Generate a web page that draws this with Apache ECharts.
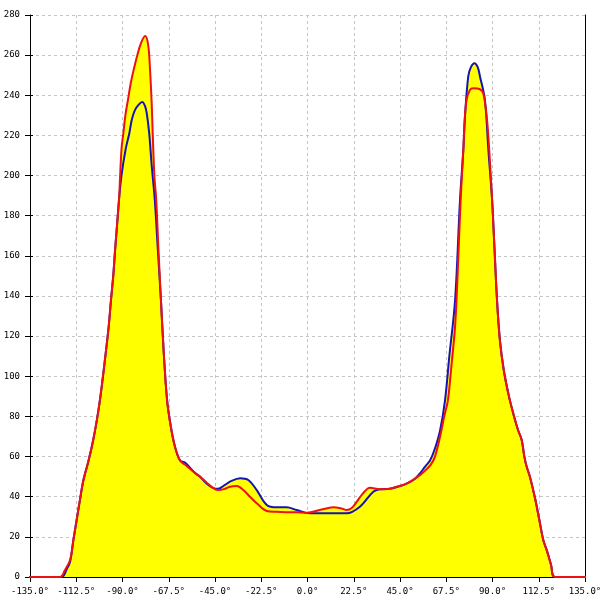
<!DOCTYPE html>
<html><head><meta charset="utf-8">
<script src="https://cdn.jsdelivr.net/npm/echarts@6/dist/echarts.min.js"></script>
<style>html,body{margin:0;padding:0;background:#fff}#c{width:600px;height:600px}</style>
</head><body><div id="c"></div>
<script>
// Tick settings
const xMin = -135, xMax = 135, xStep = 22.5;
const yMin = 0, yMax = 280, yStep = 20;

// Red series (angle, value)
const redAngles = [-150,-120.4,-118,-115.5,-113.9,-112.3,-110.7,-109,-106.5,-104.3,-102.5,-101,-99.5,-98,-96.7,-95.6,-94.5,-93.6,-92.6,-91.7,-90.5,-89.6,-88.6,-87.3,-86,-84.5,-82.8,-81,-79,-77.5,-76.6,-75.8,-75.3,-74.5,-73.6,-72.5,-71.3,-70,-68.3,-66.5,-64.5,-62,-59.6,-54.7,-52.3,-49,-45.8,-43.4,-40,-37.7,-34.4,-31.2,-28,-24.7,-19.8,-15,-10,-5,-0.4,3,6,12.6,17,19,21.5,24,26.4,30.4,35.3,40,43.4,47,50,52.3,55,57.2,60,62,64.5,66.5,68.3,70,71.8,73,74.5,75.8,76.5,77.4,79,80.7,83.9,85.5,87.2,88.4,89.8,91,92.2,93.6,95.5,98,100.5,102.5,104.2,105.5,106.6,108.2,110.7,112.8,114.7,116.5,118.5,120.4,150];
const redValues = [0,0,3.5,8.5,18.4,28.4,38.4,48.3,58,68,78,88,100,113,125,138,150,163,176,188,213,221,230,238,246,253,260,266,269.5,265,252.6,236,221,200,188,163,138,113,88,75,65,58,56,51.8,50,47,44.3,43.3,44,45,45.3,43.3,40,36.7,32.9,32.5,32.3,32.2,32,32.6,33.4,34.7,34,33.4,34.4,37.5,40.9,44.5,43.7,44,45,46,47.5,49,51,53,56,60,70,80,88,105,125,150,188,212.7,228,237.7,242.6,243.5,243,241,229.3,212.7,188,163,138,118,103,90,80,73,68.3,60,55,50,39.2,28.4,18.4,13,6,0,0];

// Blue series (angle, value)
const blueAngles = [-150,-119.6,-117.1,-115.5,-113.9,-112.3,-110.7,-109,-106.5,-104.3,-102.5,-101,-99.5,-98,-96.7,-95.6,-94.5,-93.6,-92.6,-91.7,-90.5,-88.5,-86.7,-85.5,-83.9,-82,-80.4,-79,-78.2,-77,-75.8,-74.3,-72.8,-71.3,-70,-68.3,-66.5,-64.5,-62,-59.6,-54.7,-52.3,-49,-45.8,-43.4,-40,-37.7,-32.8,-28.8,-24.7,-19.8,-15,-10.1,-5.3,1.2,10,19,25.5,32,35.3,40,43.4,47,50,52.3,55,57.2,59.6,62,64.5,66.9,69,71.8,74.2,75.8,76.6,78.2,79.5,81.2,82.8,83.9,86.3,88,89.8,91,92.2,93.6,95.5,98,100.5,102.5,104.2,105.5,106.6,108.2,110.7,112.8,114.7,116.5,118.5,120.4,150];
const blueValues = [0,0,4,7.6,18.4,28.4,38.4,48.3,58,68,78,88,100,113,125,138,150,163,176,188,200,213,221,227.7,232.7,235.5,236.6,234.5,231,221,205,188,163,138,113,88,75,65,58,57,51.8,50,46.5,44.3,44,46,47.5,49.2,48.3,43.3,35.9,34.7,34.7,33.4,31.7,31.7,31.7,35,42.5,43.7,44,44.8,46,47.5,49,52,55,58,64,73,88,110,138,188,212.7,229.3,249.4,254,256,254,249.4,237.7,212.7,188,163,138,118,103,90,80,73,68.3,60,55,50,39.2,28.4,18.4,13,6,0,0];

const zip = (a, b) => a.map((x, i) => [x, b[i]]);
const redData = zip(redAngles, redValues);
const blueData = zip(blueAngles, blueValues);

const font = { fontFamily: 'DejaVu Sans Mono', fontSize: 9, color: '#000' };
const chart = echarts.init(document.getElementById('c'), null, { renderer: 'canvas' });
const base = { type: 'line', symbol: 'none', smooth: 0.35, clip: false, animation: false };
chart.setOption({
  animation: false,
  backgroundColor: '#fff',
  grid: { left: 30, right: 15, top: 15, bottom: 23, containLabel: false, outerBoundsMode: 'none' },
  xAxis: [{
    type: 'value', min: xMin, max: xMax, interval: xStep,
    axisLine: { show: true, onZero: false, lineStyle: { color: '#000', width: 1 } },
    axisTick: { show: true, length: 5, lineStyle: { color: '#000' } },
    axisLabel: Object.assign({ margin: 10, formatter: v => v.toFixed(1) + '°' }, font),
    splitLine: { show: true, lineStyle: { color: '#c4c4c4', type: [3, 3] } }
  }, {
    type: 'value', min: xMin, max: xMax, interval: xStep, position: 'bottom',
    axisLine: { show: false, onZero: false }, axisLabel: { show: false }, splitLine: { show: false },
    axisTick: { show: true, inside: true, length: 4, lineStyle: { color: '#000' } }
  }],
  yAxis: [{
    type: 'value', min: yMin, max: yMax, interval: yStep, position: 'left',
    axisLine: { show: true, onZero: false, lineStyle: { color: '#000', width: 1 } },
    axisTick: { show: true, length: 5, lineStyle: { color: '#000' } },
    axisLabel: Object.assign({ margin: 10 }, font),
    splitLine: { show: true, lineStyle: { color: '#c4c4c4', type: [3, 3] } }
  }, {
    type: 'value', min: yMin, max: yMax, interval: yStep, position: 'right',
    axisLine: { show: true, onZero: false, lineStyle: { color: '#000', width: 1 } },
    axisTick: { show: false }, axisLabel: { show: false }, splitLine: { show: false }
  }, {
    type: 'value', min: yMin, max: yMax, interval: yStep, position: 'left', offset: 0,
    axisLine: { show: false, onZero: false }, axisLabel: { show: false }, splitLine: { show: false },
    axisTick: { show: true, inside: true, length: 3, lineStyle: { color: '#000' } }
  }],
  series: [
    Object.assign({}, base, { data: blueData, lineStyle: { width: 0 }, areaStyle: { color: '#ffff00', opacity: 1 }, z: 2 }),
    Object.assign({}, base, { data: redData, lineStyle: { width: 0 }, areaStyle: { color: '#ffff00', opacity: 1 }, z: 2 }),
    Object.assign({}, base, { data: blueData, lineStyle: { width: 2, color: '#1414b4' }, z: 3 }),
    Object.assign({}, base, { data: redData, lineStyle: { width: 2, color: '#ee1111' }, z: 4 })
  ]
});
</script></body></html>
